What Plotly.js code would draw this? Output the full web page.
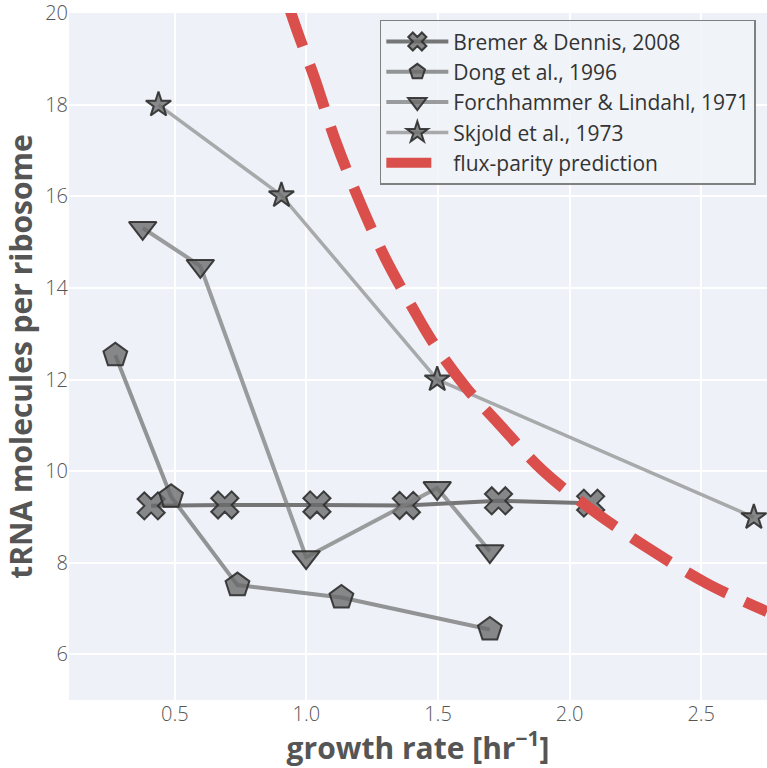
<!DOCTYPE html>
<html><head><meta charset="utf-8">
<script src="https://cdn.plot.ly/plotly-3.0.1.min.js"></script>
<style>html,body{margin:0;padding:0;background:#fff}#c{width:767px;height:768px}</style>
</head><body><div id="c"></div>
<script>
// Bremer & Dennis, 2008
const bremerX = [0.41, 0.69, 1.04, 1.38, 1.73, 2.08];
const bremerY = [9.24, 9.26, 9.26, 9.25, 9.35, 9.30];
// Dong et al., 1996
const dongX = [0.274, 0.486, 0.738, 1.133, 1.697];
const dongY = [12.53, 9.44, 7.51, 7.24, 6.54];
// Forchhammer & Lindahl, 1971
const forchX = [0.378, 0.597, 0.999, 1.497, 1.697];
const forchY = [15.31, 14.48, 8.12, 9.63, 8.25];
// Skjold et al., 1973
const skjoldX = [0.438, 0.905, 1.497, 2.70];
const skjoldY = [18.0, 16.02, 12.0, 8.99];
// flux-parity prediction
const fluxX = [0.93, 0.97, 1.03, 1.11, 1.2, 1.3, 1.4, 1.48, 1.61, 1.73, 1.9, 2.09, 2.3, 2.52, 2.75];
const fluxY = [20.2, 19.53, 18.6, 17.22, 15.92, 14.65, 13.6, 12.82, 11.8, 11.04, 10.0, 9.13, 8.31, 7.55, 6.93];

const names = ['Bremer &amp; Dennis, 2008','Dong et al., 1996','Forchhammer &amp; Lindahl, 1971','Skjold et al., 1973','flux-parity prediction'];
const xTicks = [0.5, 1.0, 1.5, 2.0, 2.5];
const xTickText = ['0.5','1.0','1.5','2.0','2.5'];
const yTicks = [6, 8, 10, 12, 14, 16, 18, 20];

const mk = (sym, size) => ({symbol: sym, size: size, color: 'rgba(105,105,105,0.78)', line: {color: 'rgba(45,45,45,0.9)', width: 2}});

const traces = [
  {x: bremerX, y: bremerY, name: names[0], mode: 'lines+markers',
   line: {color: 'rgba(95,95,95,0.85)', width: 4}, marker: mk('x', 24)},
  {x: dongX, y: dongY, name: names[1], mode: 'lines+markers',
   line: {color: 'rgba(115,115,115,0.75)', width: 4}, marker: mk('pentagon', 25)},
  {x: forchX, y: forchY, name: names[2], mode: 'lines+markers',
   line: {color: 'rgba(125,125,125,0.75)', width: 4}, marker: mk('triangle-down', 24)},
  {x: skjoldX, y: skjoldY, name: names[3], mode: 'lines+markers',
   line: {color: 'rgba(150,150,150,0.8)', width: 3.5}, marker: mk('star', 19)},
  {x: fluxX, y: fluxY, name: names[4], mode: 'lines',
   line: {color: 'rgb(218,78,75)', width: 11, dash: '45px,20px', shape: 'spline'}}
];

const tickFont = {family: '"Open Sans", sans-serif', size: 20, color: '#555', weight: 300};
const titleFont = {family: '"Open Sans", sans-serif', size: 30, color: '#555'};

const layout = {
  width: 767, height: 768,
  margin: {l: 69, r: 0, t: 13, b: 68},
  paper_bgcolor: '#ffffff',
  plot_bgcolor: 'rgb(238,242,248)',
  font: {family: '"Open Sans", sans-serif', color: '#444'},
  showlegend: true,
  legend: {x: 0.984, xanchor: 'right', y: 0.99, yanchor: 'top',
    bgcolor: 'rgba(240,243,248,0.85)', bordercolor: '#808080', borderwidth: 1.5,
    font: {family: '"Open Sans", sans-serif', size: 21, color: '#333'}, itemwidth: 62, tracegroupgap: 0},
  xaxis: {range: [0.098, 2.75], tickvals: xTicks, ticktext: xTickText,
    showgrid: true, gridcolor: '#ffffff', gridwidth: 2, zeroline: false, showline: false,
    ticks: '', ticklen: 0, tickfont: tickFont, ticklabeloverflow: 'allow',
    title: {text: '<b>growth rate [hr<sup>−1</sup>]</b>', font: titleFont, standoff: 6}},
  yaxis: {range: [5, 20.005], tickvals: yTicks,
    showgrid: true, gridcolor: '#ffffff', gridwidth: 2, zeroline: false, showline: false,
    ticks: '', ticklen: 0, tickfont: tickFont, ticklabeloverflow: 'allow',
    title: {text: '<b>tRNA molecules per ribosome</b>', font: titleFont, standoff: 8}}
};

Plotly.newPlot('c', traces, layout, {displayModeBar: false});
</script>
</body></html>
